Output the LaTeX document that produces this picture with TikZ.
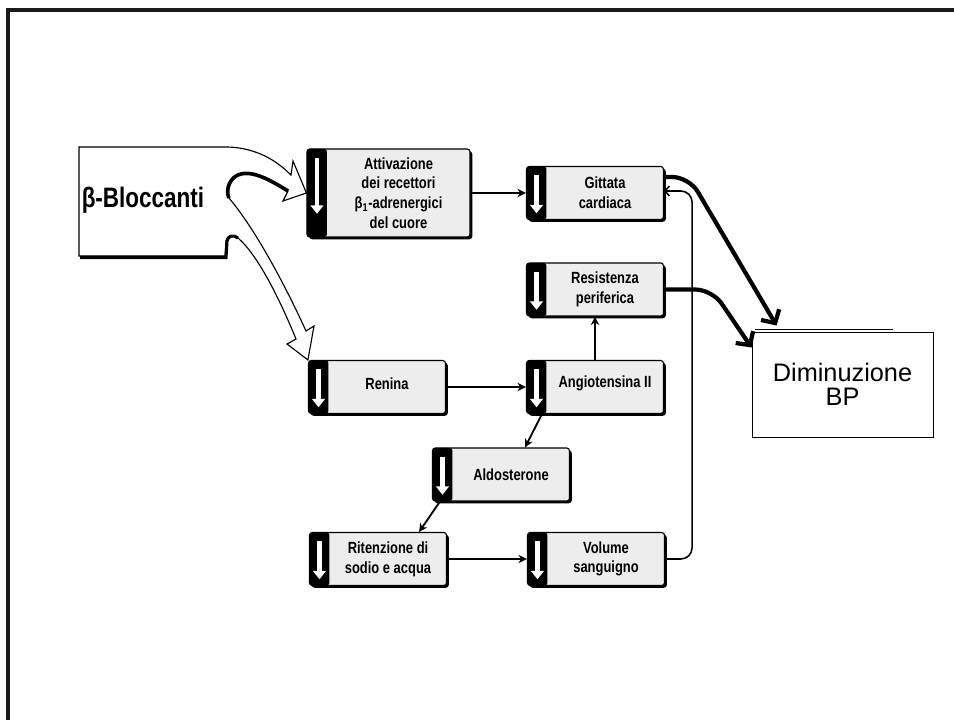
\documentclass[tikz,border=0pt]{standalone}
\usepackage{fontspec}
\setmainfont{Liberation Sans}
\newfontfamily\condfont[FakeStretch=0.8]{Liberation Sans}
\usetikzlibrary{arrows.meta,shadows}

\begin{document}
\begin{tikzpicture}[x=0.025cm,y=-0.025cm,
    ebox/.style={draw=black,line width=0.8pt,fill=black!7,rounded corners=2pt,
      inner sep=0pt,
      drop shadow={shadow xshift=1.6pt,shadow yshift=-1.6pt,fill=black,opacity=1},
      path picture={
        \fill[black] (path picture bounding box.north west) rectangle
          ([xshift=0.5cm]path picture bounding box.south west);
        \draw[white,line width=3.4pt,-{Triangle[length=6pt,width=9pt]}]
          ([xshift=0.25cm,yshift=-0.22cm]path picture bounding box.north west) --
          ++(0,-#1);
      }},
    ebox/.default=0.95cm,
    sbox/.style={ebox,minimum width=3.425cm,minimum height=1.325cm},
    etext/.style={font=\condfont\bfseries\fontsize{11.5}{14}\selectfont,
      align=center,inner sep=0pt,xshift=0.25cm},
    thin/.style={line width=1.3pt,-{Stealth[length=6pt,width=6pt]}},
    fat/.style={line width=3pt,rounded corners=12pt,
      -{Straight Barb[length=7pt,width=15pt]}}]
  \useasboundingbox (0,0) rectangle (954,720);
  % frame
  \draw[line width=2.2pt,black!90] (8,720) -- (8,10) -- (954,10);

  % boxes
  \node[ebox=1.4cm,minimum width=4.075cm,minimum height=2.2cm] (att) at (388.5,193) {};
  \node[sbox] (gitt) at (595,193) {};
  \node[sbox] (resist) at (595,289.5) {};
  \node[sbox] (renina) at (377,387) {};
  \node[sbox] (angio) at (595,387) {};
  \node[sbox] (aldo) at (501,474.5) {};
  \node[sbox] (ritenz) at (378,559) {};
  \node[sbox] (volume) at (596,559) {};

  \node[etext] (att-t) at (att)
    {Attivazione\\dei recettori\\β\textsubscript{1}-adrenergici\\del cuore};
  \node[etext] (gitt-t) at (gitt) {Gittata\\cardiaca};
  \node[etext] (resist-t) at (resist) {Resistenza\\periferica};
  \node[etext,yshift=0.08cm] (renina-t) at (renina) {Renina};
  \node[etext,yshift=0.08cm] (angio-t) at (angio) {Angiotensina II};
  \node[etext] (aldo-t) at (aldo) {Aldosterone};
  \node[etext] (ritenz-t) at (ritenz) {Ritenzione di\\sodio e acqua};
  \node[etext] (volume-t) at (volume) {Volume\\sanguigno};

  % beta-bloccanti with hollow arrows
  \draw[line width=0.8pt,fill=white]
    (79,147) -- (228,147)
    .. controls (256,148) and (276,160) .. (291,175)
    -- (293,161) -- (att.west) -- (283,201) -- (288,191)
    .. controls (270,180) and (250,168) .. (236,176)
    .. controls (228,181) and (226,192) .. (229,198)
    .. controls (260,235) and (292,300) .. (306,331)
    -- (314,326) -- (renina.north west) -- (287,344) -- (296,339)
    .. controls (280,300) and (258,255) .. (238,238)
    .. controls (232,233) and (227,236) .. (226,241)
    -- (225,256) -- (79,256) -- cycle;
  \draw[line width=2.6pt]
    (288,191) .. controls (270,180) and (250,168) .. (236,176)
    .. controls (228,181) and (226,192) .. (229,198);
  \draw[line width=2.2pt]
    (80,257.5) -- (226,257.5) -- (227,241)
    .. controls (228,236) and (233,234) .. (238,238);
  \node[font=\condfont\bfseries\fontsize{20}{24}\selectfont,inner sep=0pt]
    (beta) at (143,200) {β-Bloccanti};

  % BP
  \draw[line width=1.2pt] (755,329.5) -- (893,329.5);
  \node[draw,line width=0.6pt,fill=white,minimum width=4.525cm,minimum height=2.625cm,
    inner sep=0pt,align=center,font=\fontsize{18}{17}\selectfont]
    (bp) at (842.5,384.5) {Diminuzione\\BP};

  % connectors
  \draw[thin] (att.east) -- (gitt.west);
  \draw[thin] (renina) -- (angio);
  \draw[thin] (angio) -- (resist);
  \draw[thin] ([xshift=0.4cm]angio.south west) -- ([xshift=0.6cm]aldo.north);
  \draw[thin] ([xshift=0.2cm]aldo.south west) -- ([xshift=-0.7cm]ritenz.north east);
  \draw[thin] (ritenz) -- (volume);
  \draw[line width=1.1pt,rounded corners=8pt,-{Straight Barb[length=3pt,width=7pt]}]
    (volume.east) -- ++(27,0) |- ([yshift=0.05cm]gitt.east);

  \draw[fat] ([yshift=0.4cm]gitt.east) -- ++(25,0)
    -- ([xshift=0.625cm,yshift=0.15cm]bp.north west);
  \draw[fat] (resist.east) -- ++(48,0)
    -- ([yshift=-0.4cm]bp.north west);
\end{tikzpicture}
\end{document}
